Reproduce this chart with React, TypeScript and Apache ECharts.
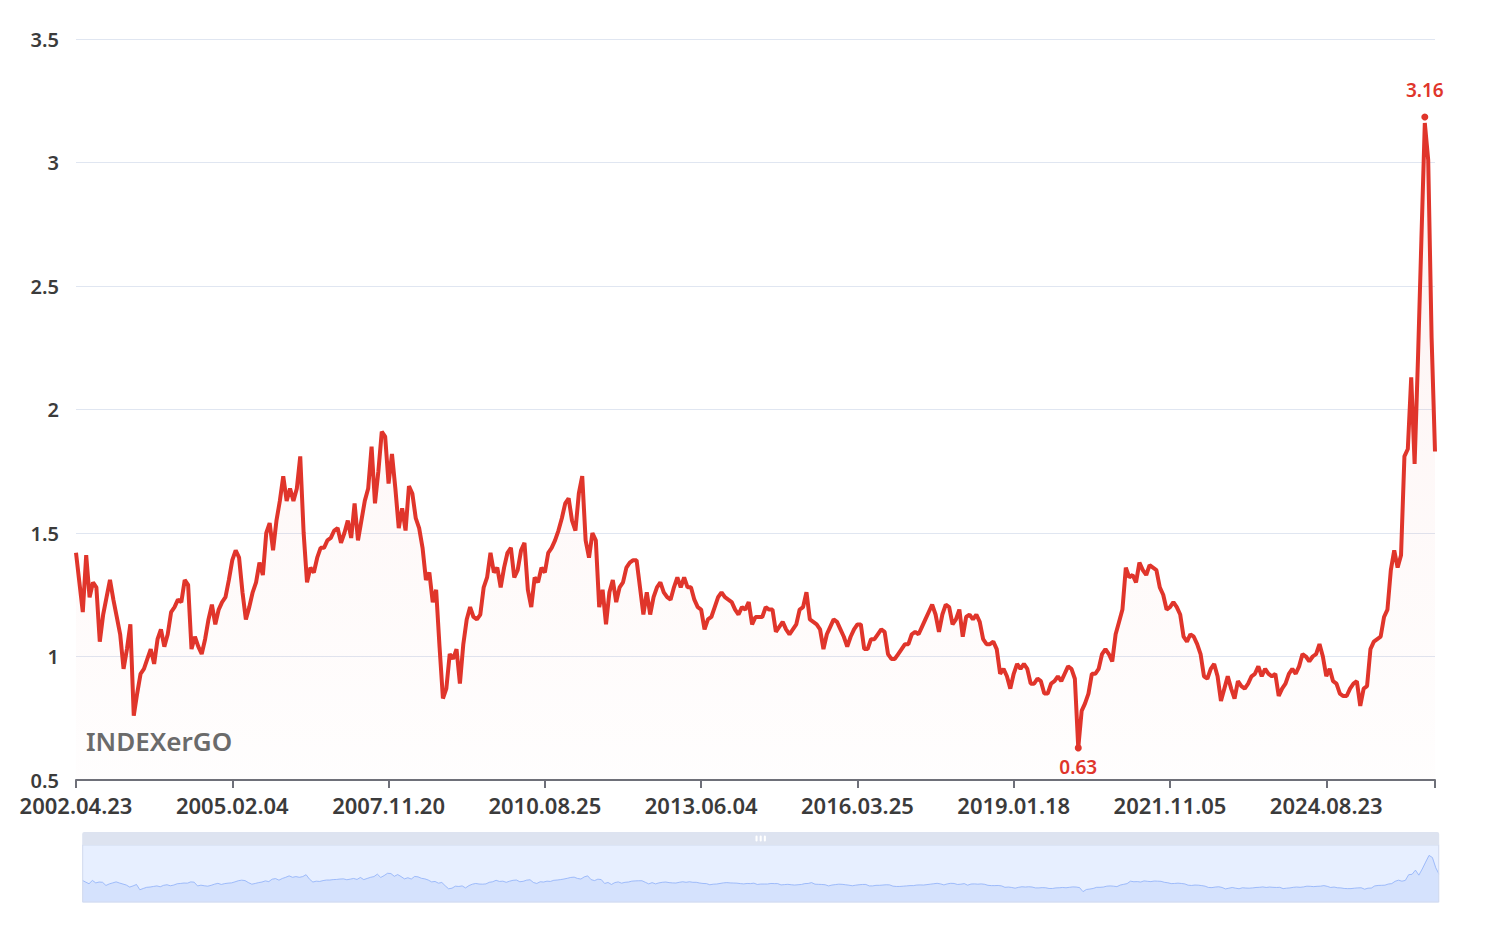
import React, { useEffect, useRef } from "react";
import * as echarts from "echarts";

// Tick label dates on the category axis (every LABEL_STEP points)
const labelDates = [
  "2002.04.23",
  "2005.02.04",
  "2007.11.20",
  "2010.08.25",
  "2013.06.04",
  "2016.03.25",
  "2019.01.18",
  "2021.11.05",
  "2024.08.23",
];
const LABEL_STEP = 46;

// Series values, in four stretches
const values2002to2008 = [
  1.42, 1.30, 1.18, 1.41, 1.24, 1.30, 1.28, 1.06, 1.17, 1.24,
  1.31, 1.23, 1.16, 1.09, 0.95, 1.03, 1.13, 0.76, 0.85, 0.93,
  0.95, 0.99, 1.03, 0.97, 1.07, 1.11, 1.04, 1.09, 1.18, 1.20,
  1.23, 1.22, 1.31, 1.29, 1.03, 1.08, 1.04, 1.01, 1.07, 1.15,
  1.21, 1.13, 1.19, 1.22, 1.24, 1.31, 1.39, 1.43, 1.40, 1.26,
  1.15, 1.20, 1.26, 1.30, 1.38, 1.33, 1.50, 1.54, 1.43, 1.55,
  1.63, 1.73, 1.63, 1.68, 1.63, 1.68, 1.81, 1.50, 1.30, 1.36,
  1.34, 1.40, 1.44, 1.44, 1.47, 1.48, 1.51, 1.52, 1.46, 1.50,
  1.55, 1.48, 1.62, 1.47, 1.55, 1.63, 1.68, 1.85, 1.62, 1.75,
  1.91, 1.89, 1.70, 1.82, 1.68, 1.52, 1.60, 1.51, 1.69, 1.66,
];
const values2008to2014 = [
  1.56, 1.52, 1.44, 1.31, 1.34, 1.22, 1.27, 1.04, 0.83, 0.87,
  1.01, 0.99, 1.03, 0.89, 1.05, 1.15, 1.20, 1.16, 1.15, 1.17,
  1.28, 1.32, 1.42, 1.34, 1.36, 1.28, 1.36, 1.42, 1.44, 1.32,
  1.35, 1.43, 1.46, 1.27, 1.20, 1.32, 1.30, 1.36, 1.34, 1.42,
  1.44, 1.47, 1.51, 1.56, 1.62, 1.64, 1.55, 1.51, 1.66, 1.73,
  1.47, 1.40, 1.50, 1.47, 1.20, 1.27, 1.13, 1.26, 1.31, 1.22,
  1.28, 1.30, 1.36, 1.38, 1.39, 1.39, 1.28, 1.17, 1.26, 1.17,
  1.24, 1.28, 1.30, 1.26, 1.24, 1.23, 1.28, 1.32, 1.28, 1.32,
  1.28, 1.28, 1.23, 1.20, 1.19, 1.11, 1.15, 1.16, 1.20, 1.24,
  1.26, 1.24, 1.23, 1.22, 1.19, 1.17, 1.20, 1.19, 1.22, 1.13,
];
const values2014to2020 = [
  1.16, 1.16, 1.16, 1.20, 1.19, 1.19, 1.10, 1.12, 1.14, 1.11,
  1.09, 1.11, 1.13, 1.19, 1.20, 1.26, 1.15, 1.14, 1.13, 1.11,
  1.03, 1.09, 1.12, 1.15, 1.14, 1.11, 1.08, 1.04, 1.08, 1.11,
  1.13, 1.13, 1.03, 1.03, 1.07, 1.07, 1.09, 1.11, 1.10, 1.01,
  0.99, 0.99, 1.01, 1.03, 1.05, 1.05, 1.09, 1.10, 1.09, 1.12,
  1.15, 1.18, 1.21, 1.17, 1.10, 1.17, 1.21, 1.20, 1.13, 1.15,
  1.19, 1.08, 1.16, 1.17, 1.15, 1.17, 1.14, 1.07, 1.05, 1.05,
  1.06, 1.03, 0.93, 0.95, 0.92, 0.87, 0.93, 0.97, 0.95, 0.97,
  0.95, 0.89, 0.89, 0.91, 0.90, 0.85, 0.85, 0.89, 0.90, 0.92,
  0.90, 0.93, 0.96, 0.95, 0.91, 0.63, 0.78, 0.81, 0.85, 0.93,
];
const values2020to2026 = [
  0.93, 0.95, 1.01, 1.03, 1.01, 0.98, 1.09, 1.14, 1.19, 1.36,
  1.32, 1.33, 1.30, 1.38, 1.35, 1.33, 1.37, 1.36, 1.35, 1.28,
  1.25, 1.19, 1.20, 1.22, 1.20, 1.17, 1.08, 1.06, 1.09, 1.08,
  1.05, 1.01, 0.92, 0.91, 0.95, 0.97, 0.92, 0.82, 0.87, 0.92,
  0.87, 0.83, 0.90, 0.88, 0.87, 0.89, 0.92, 0.93, 0.96, 0.92,
  0.95, 0.93, 0.92, 0.93, 0.84, 0.87, 0.89, 0.93, 0.95, 0.93,
  0.96, 1.01, 1.00, 0.98, 1.00, 1.01, 1.05, 1.00, 0.92, 0.95,
  0.90, 0.89, 0.85, 0.84, 0.84, 0.87, 0.89, 0.90, 0.80, 0.87,
  0.88, 1.03, 1.06, 1.07, 1.08, 1.16, 1.19, 1.35, 1.43, 1.36,
  1.41, 1.81, 1.84, 2.13, 1.78, 2.21, 2.69, 3.16, 3.01, 2.29,
  1.83,
];

const values = [
  ...values2002to2008,
  ...values2008to2014,
  ...values2014to2020,
  ...values2020to2026,
];

const FONT = '"Noto Sans", "Open Sans", sans-serif';
const RED = "#e0352b";

function parseDate(s: string): number {
  const [y, m, d] = s.split(".").map(Number);
  return Date.UTC(y, m - 1, d);
}
function fmt(t: number): string {
  const d = new Date(t);
  const p = (n: number) => (n < 10 ? "0" + n : "" + n);
  return d.getUTCFullYear() + "." + p(d.getUTCMonth() + 1) + "." + p(d.getUTCDate());
}
// category dates: the labelled dates, with the unlabelled ones in between spread evenly
function buildDates(n: number): string[] {
  const anchors = labelDates.map(parseDate);
  const out: string[] = [];
  const day = 86400000;
  for (let i = 0; i < n; i++) {
    const seg = Math.min(Math.floor(i / LABEL_STEP), anchors.length - 2);
    const f = (i - seg * LABEL_STEP) / LABEL_STEP;
    const t = anchors[seg] + (anchors[seg + 1] - anchors[seg]) * f;
    out.push(fmt(Math.round(t / day) * day));
  }
  return out;
}

export default function App() {
  const ref = useRef<HTMLDivElement>(null);
  useEffect(() => {
    if (!ref.current) return;
    const chart = echarts.init(ref.current, null, { renderer: "svg" });
    const dates = buildDates(values.length);
    const last = values.length - 1;
    chart.setOption({
      animation: false,
      backgroundColor: "#ffffff",
      grid: { left: 76, right: 59, top: 39, bottom: 150, containLabel: false },
      xAxis: {
        type: "category",
        data: dates,
        boundaryGap: false,
        axisLine: { lineStyle: { color: "#6E7079", width: 2 } },
        axisTick: {
          show: true,
          length: 8,
          interval: (idx: number) => idx % LABEL_STEP === 0 || idx === last,
          lineStyle: { color: "#6E7079", width: 2 },
        },
        axisLabel: {
          interval: (idx: number) => idx % LABEL_STEP === 0,
          color: "#3b3b3b",
          fontSize: 22,
          lineHeight: 18,
          fontWeight: 600,
          fontFamily: FONT,
          margin: 16,
        },
        splitLine: { show: false },
      },
      yAxis: {
        type: "value",
        min: 0.5,
        max: 3.5,
        interval: 0.5,
        axisLine: { show: false },
        axisTick: { show: false },
        axisLabel: {
          color: "#3b3b3b",
          fontSize: 20,
          lineHeight: 16,
          fontWeight: 600,
          fontFamily: FONT,
          margin: 17,
        },
        splitLine: { lineStyle: { color: "#E0E6F1", width: 1 } },
      },
      dataZoom: [
        {
          type: "slider",
          xAxisIndex: 0,
          start: 0,
          end: 100,
          left: 77,
          right: 60,
          top: 832,
          height: 58,
          moveHandleSize: 13,
          moveHandleStyle: { color: "#dde3f0", opacity: 1 },
          handleStyle: { opacity: 0 },
          borderColor: "#d2dbee",
          fillerColor: "rgba(135,175,274,0.2)",
          dataBackground: {
            lineStyle: { color: "#8fb0f7", width: 0.8 },
            areaStyle: { color: "#8fb0f7", opacity: 0.2 },
          },
          selectedDataBackground: {
            lineStyle: { color: "#8fb0f7", width: 0.8 },
            areaStyle: { color: "#8fb0f7", opacity: 0.2 },
          },
          showDetail: false,
        },
      ],
      graphic: [
        {
          type: "text",
          left: 86,
          top: 728,
          z: 10,
          style: {
            text: "INDEXerGO",
            fill: "#6b6b6b",
            fontSize: 26,
            fontWeight: 600,
            fontFamily: FONT,
          },
        },
      ],
      series: [
        {
          type: "line",
          data: values,
          showSymbol: false,
          symbol: "none",
          lineStyle: { color: RED, width: 4 },
          itemStyle: { color: RED },
          areaStyle: {
            color: new echarts.graphic.LinearGradient(0, 0, 0, 1, [
              { offset: 0, color: "rgba(224,53,43,0.09)" },
              { offset: 1, color: "rgba(224,53,43,0.01)" },
            ]),
          },
          markPoint: {
            symbol: "circle",
            symbolSize: 7,
            itemStyle: { color: RED },
            label: {
              color: RED,
              fontSize: 19,
              fontWeight: 600,
              fontFamily: FONT,
            },
            data: [
              {
                type: "max",
                symbolOffset: [0, -6],
                label: { position: "top", distance: 14 },
              },
              {
                type: "min",
                label: { position: "bottom", distance: 6 },
              },
            ],
          },
        },
      ],
    });
    return () => chart.dispose();
  }, []);
  return (
    <div
      ref={ref}
      style={{ position: "fixed", left: 0, top: 0, width: 1494, height: 930 }}
    />
  );
}
